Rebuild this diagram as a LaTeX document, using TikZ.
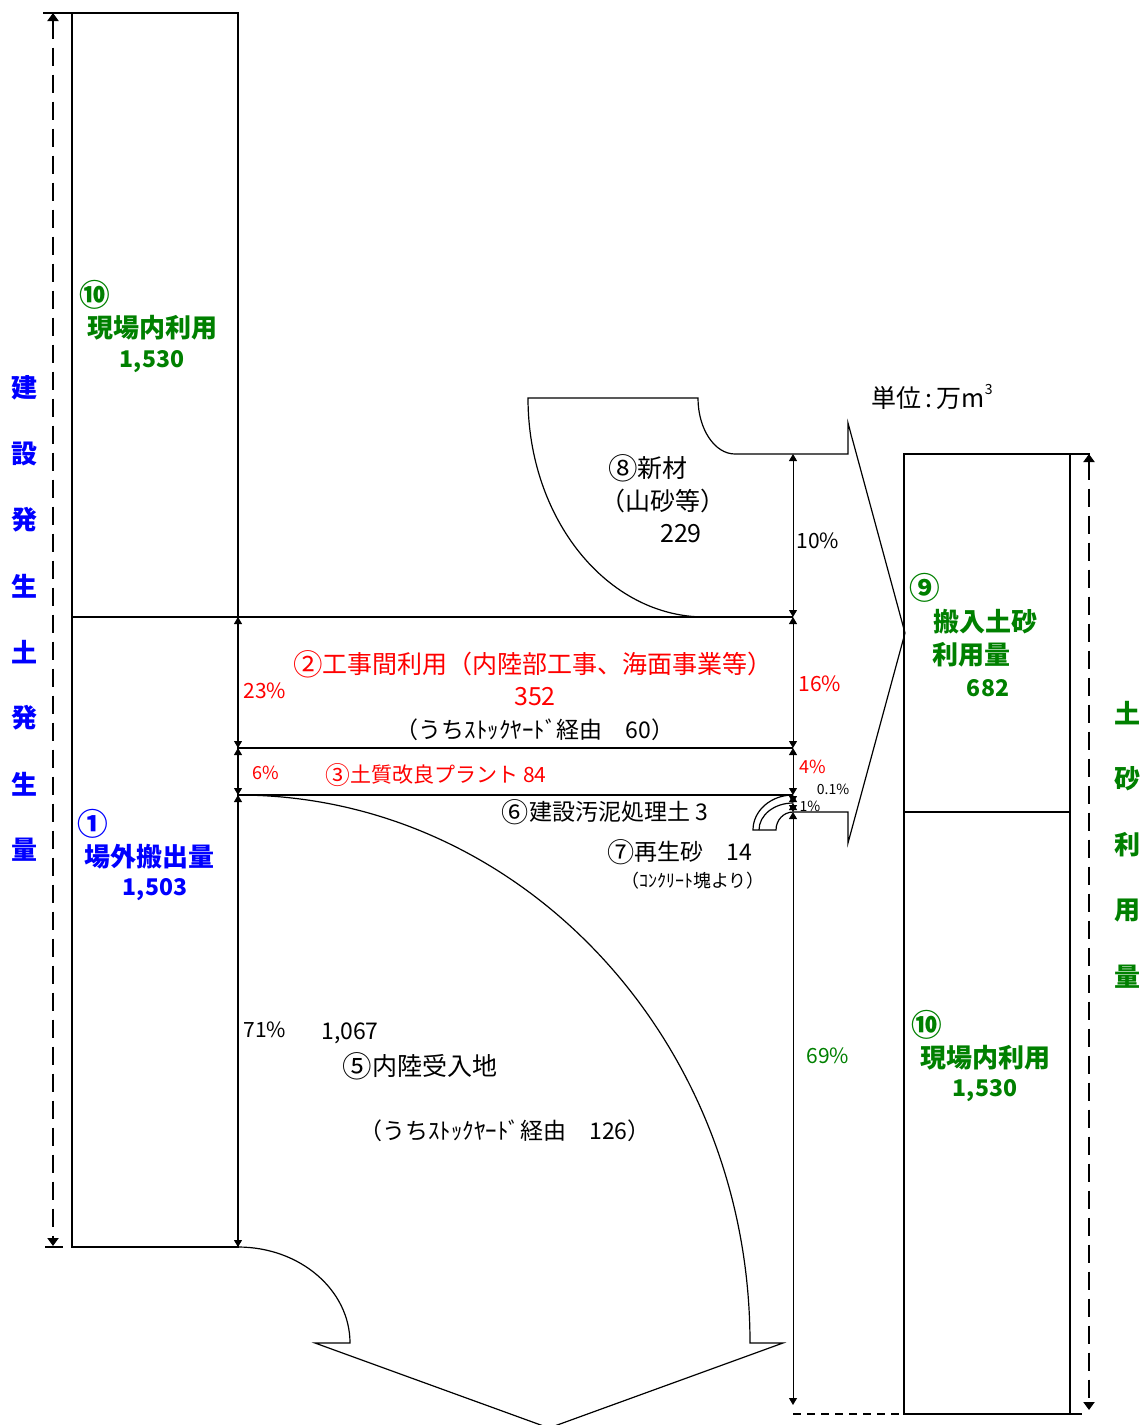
\documentclass[tikz,border=0pt]{standalone}
\usepackage{fontspec}
\usepackage{graphicx}
\setmainfont{Noto Sans CJK JP}
\usetikzlibrary{arrows.meta}

\definecolor{genblue}{RGB}{0,0,255}
\definecolor{usegreen}{RGB}{0,128,0}
\definecolor{flowred}{RGB}{255,0,0}

% circled numbers a little larger than the font gives them
\newcommand{\cnum}[1]{\raisebox{-0.08em}{\scalebox{1.18}{#1}}}

\tikzset{
  outline/.style={line width=1.2pt},
  dimline/.style={line width=1pt,{Triangle[width=8pt,length=7pt]}-{Triangle[width=8pt,length=7pt]}},
  dashline/.style={line width=2pt,dash pattern=on 18pt off 9pt,{Triangle[width=11pt,length=8pt]}-{Triangle[width=11pt,length=8pt]}},
  bigtxt/.style={inner sep=0pt,font=\fontsize{26}{30}\selectfont\bfseries},
  bignum/.style={inner sep=0pt,font=\fontsize{23}{26}\selectfont\bfseries},
  midtxt/.style={inner sep=0pt,font=\fontsize{25}{28}\selectfont},
  txt/.style={inner sep=0pt,font=\fontsize{23}{26}\selectfont},
  pct/.style={inner sep=0pt,font=\fontsize{21}{24}\selectfont},
  smallpct/.style={inner sep=0pt,font=\fontsize{18}{20}\selectfont},
  tinypct/.style={inner sep=0pt,font=\fontsize{14}{16}\selectfont},
}

\begin{document}
\begin{tikzpicture}[x=1pt,y=-1pt]
    \useasboundingbox (0,0) rectangle (1143,1425);

    % left column
    \draw[outline] (72,13) rectangle (238,1247);
    \draw[outline] (43,13) -- (72,13);
    \draw[outline] (45,1247) -- (63,1247);
    \draw[outline] (72,617) -- (793,617);
    \draw[outline] (238,748) -- (793,748);
    \draw[outline] (238,795) -- (793,795);

    % inland arrow
    \draw[outline] (238,1247) arc[start angle=270,end angle=360,x radius=112,y radius=96]
        -- (315,1343) -- (549,1428) -- (783,1343) -- (750,1343)
        arc[start angle=0,end angle=-90,x radius=512,y radius=548];

    % new material arrow
    \draw[outline] (705,617) arc[start angle=90,end angle=180,x radius=177,y radius=219]
        -- (698,398) arc[start angle=180,end angle=90,x radius=37,y radius=56]
        -- (848,454) -- (848,423) -- (905,633) -- (848,843) -- (848,812) -- (793,812);

    % sludge / recycled sand
    \draw[outline] (793,795) arc[start angle=270,end angle=180,x radius=40,y radius=35]
        -- (776,830) arc[start angle=180,end angle=270,x radius=17,y radius=18];
    \draw[outline] (793,803) arc[start angle=270,end angle=180,x radius=34,y radius=27];

    % right column
    \draw[outline] (904,454) rectangle (1070,1414);
    \draw[outline] (904,812) -- (1070,812);
    \draw[outline] (1070,454) -- (1090,454);
    \draw[outline] (1070,1414) -- (1082,1414);
    \draw[outline,dash pattern=on 8pt off 6pt] (793,1414) -- (904,1414);

    % dimension points
    \coordinate (gtop) at (53,13);
    \coordinate (gbot) at (53,1246);
    \coordinate (utop) at (1089,454);
    \coordinate (ubot) at (1089,1410);
    \coordinate (a0) at (238,617);
    \coordinate (a1) at (238,748);
    \coordinate (a2) at (238,795);
    \coordinate (a3) at (238,1247);
    \coordinate (b0) at (793,454);
    \coordinate (b1) at (793,617);
    \coordinate (b2) at (793,748);
    \coordinate (b3) at (793,795);
    \coordinate (b4) at (793,803);
    \coordinate (b5) at (793,812);
    \coordinate (b6) at (793,1405);

    \draw[dashline] (gtop) -- (gbot);
    \draw[dashline] (utop) -- (ubot);

    \draw[dimline] (a0) -- (a1);
    \draw[dimline] (a1) -- (a2);
    \draw[dimline] (a2) -- (a3);
    \draw[dimline] (b0) -- (b1);
    \draw[dimline] (b1) -- (b2);
    \draw[dimline] (b2) -- (b3);
    \draw[dimline] (b3) -- (b4);
    \draw[dimline] (b4) -- (b5);
    \draw[dimline] (b5) -- (b6);

    % vertical captions
    \node (g1) at (25,388) [bigtxt,genblue] {建};
    \node (g2) at (25,454) [bigtxt,genblue] {設};
    \node (g3) at (25,520) [bigtxt,genblue] {発};
    \node (g4) at (25,586) [bigtxt,genblue] {生};
    \node (g5) at (25,652) [bigtxt,genblue] {土};
    \node (g6) at (25,718) [bigtxt,genblue] {発};
    \node (g7) at (25,784) [bigtxt,genblue] {生};
    \node (g8) at (25,850) [bigtxt,genblue] {量};

    \node (u1) at (1127,713) [bigtxt,usegreen] {土};
    \node (u2) at (1127,779) [bigtxt,usegreen] {砂};
    \node (u3) at (1127,845) [bigtxt,usegreen] {利};
    \node (u4) at (1127,911) [bigtxt,usegreen] {用};
    \node (u5) at (1127,977) [bigtxt,usegreen] {量};

    % left column labels
    \node (onsiteLno)  at (95,295)  [bigtxt,usegreen] {\cnum{⑩}};
    \node (onsiteL)    at (152,328) [bigtxt,usegreen] {現場内利用};
    \node (onsiteLval) at (152,362) [bignum,usegreen] {1,530};
    \node (outno)      at (93,824)  [bigtxt,genblue] {\cnum{①}};
    \node (out)        at (149,857) [bigtxt,genblue] {場外搬出量};
    \node (outval)     at (155,890) [bignum,genblue] {1,503};

    % right column labels
    \node (inno)       at (925,588)  [bigtxt,usegreen] {\cnum{⑨}};
    \node (inlbl)      at (985,622)  [bigtxt,usegreen] {搬入土砂};
    \node (inlbl2)     at (971,655)  [bigtxt,usegreen] {利用量};
    \node (inval)      at (988,688)  [bignum,usegreen] {682};
    \node (onsiteRno)  at (927,1025) [bigtxt,usegreen] {\cnum{⑩}};
    \node (onsiteR)    at (985,1058) [bigtxt,usegreen] {現場内利用};
    \node (onsiteRval) at (985,1091) [bignum,usegreen] {1,530};

    \node (unit) at (932,397) [midtxt] {単位\,:\,万m\raisebox{0.55em}{\fontsize{14}{14}\selectfont 3}};

    % flows
    \node (newno)  at (648,468) [midtxt] {\cnum{⑧}新材};
    \node (newsub) at (663,501) [midtxt] {（山砂等）};
    \node (newval) at (681,534) [midtxt] {229};
    \node (p10)    at (818,541) [pct] {10\%};

    \node (inter)      at (533,664) [midtxt,flowred] {\cnum{②}工事間利用（内陸部工事、海面事業等）};
    \node (interval)   at (535,697) [midtxt,flowred] {352};
    \node (interstock) at (535,730) [txt] {（うちｽﾄｯｸﾔｰﾄﾞ経由　60）};
    \node (p23)        at (265,691) [pct,flowred] {23\%};
    \node (p16)        at (820,684) [pct,flowred] {16\%};

    \node (p6)    at (266,773) [smallpct,flowred] {6\%};
    \node (plant) at (436,775) [pct,flowred] {\cnum{③}土質改良プラント 84};
    \node (p4)    at (813,767) [smallpct,flowred] {4\%};

    \node (p01)      at (833,789) [tinypct] {0.1\%};
    \node (p1)       at (810,806) [tinypct] {1\%};
    \node (sludge)   at (605,812) [txt] {\cnum{⑥}建設汚泥処理土 3};
    \node (recyc)    at (680,852) [txt] {\cnum{⑦}再生砂　14};
    \node (recycsub) at (693,881) [smallpct] {（ｺﾝｸﾘｰﾄ塊より）};

    \node (p71)         at (265,1030) [pct] {71\%};
    \node (inlandval)   at (350,1033) [txt] {1,067};
    \node (inland)      at (420,1066) [midtxt] {\cnum{⑤}内陸受入地};
    \node (inlandstock) at (505,1131) [txt] {（うちｽﾄｯｸﾔｰﾄﾞ経由　126）};
    \node (p69)         at (828,1056) [pct,usegreen] {69\%};

\end{tikzpicture}
\end{document}
